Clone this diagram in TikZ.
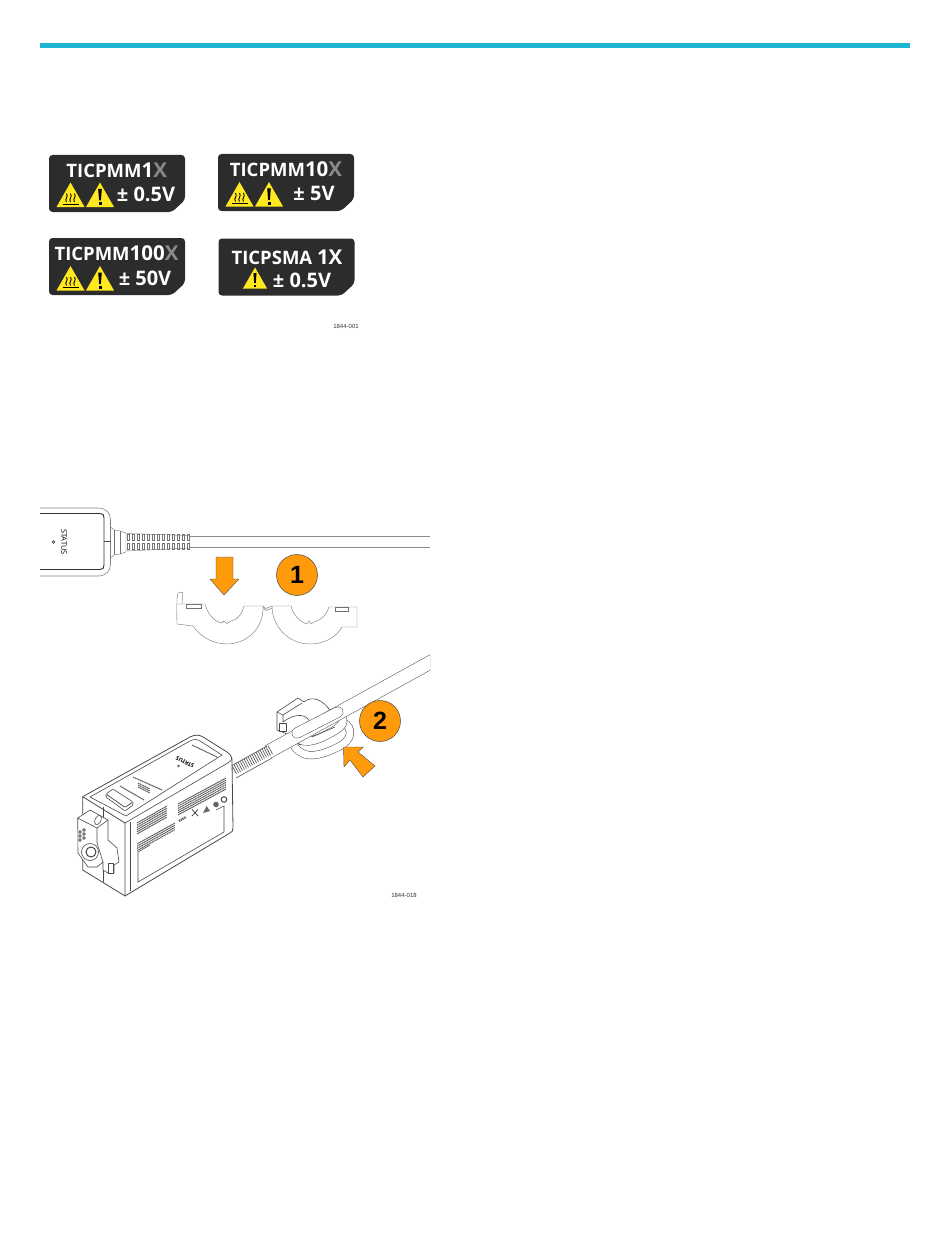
\documentclass[tikz,border=0pt]{standalone}
\usepackage{fontspec}
\setmainfont{Open Sans}
\newfontfamily\tagfont{Liberation Sans}
\usetikzlibrary{positioning, calc}
\definecolor{barcyan}{HTML}{1FB4D2}
\definecolor{badgegray}{HTML}{2C2C2C}
\definecolor{xgray}{HTML}{8A8A8A}
\definecolor{warnyellow}{HTML}{FFE81F}
\definecolor{callorange}{HTML}{FF9A0A}
\definecolor{inkgray}{HTML}{4A4A4A}
\newcommand{\Dim}[1]{\textcolor{xgray}{#1}}
\tikzset{
    badge/.pic = {
    \fill[badgegray, rounded corners=3.5pt] (0,0) -- (136,0) -- (136,45) -- (123,57) -- (0,57) -- cycle;
    },
    warnsign/.pic = {
    \fill[warnyellow] (-14,0) -- (0,-24.5) -- (14,0) -- cycle;
    \fill[black] (-1.8,-18) -- (1.8,-18) -- (0.9,-6.5) -- (-0.9,-6.5) -- cycle;
    \fill[black] (-1.5,-4.6) rectangle (1.5,-1.6);
    },
    hotsign/.pic = {
    \fill[warnyellow] (-14,0) -- (0,-24.5) -- (14,0) -- cycle;
    \draw[black, line width=0.9pt] (-8,-2.8) -- (8,-2.8);
    \foreach \hx in {-4,0,4} {
      \draw[black, line width=0.9pt] (\hx,-5) .. controls (\hx-2.5,-8) and (\hx+2.5,-10) .. (\hx,-13.5);
    }
    },
    topline/.style={font=\fontsize{18.5}{19}\selectfont\bfseries, text=white, inner sep=0pt},
    voltline/.style={font=\fontsize{20}{21}\selectfont\bfseries, text=white, inner sep=0pt},
    callnum/.style={circle, draw=inkgray, line width=0.5pt, fill=callorange, minimum size=41pt, inner sep=0pt, font=\tagfont\fontsize{25}{26}\selectfont\bfseries},
    callarrow/.style={fill=callorange, draw=inkgray, line width=0.4pt, line join=round},
    figtag/.style={font=\tagfont\fontsize{6}{7}\selectfont, text=black!80, inner sep=0pt},
    part/.style={draw=inkgray, line width=0.6pt, fill=white, line join=round},
    ink/.style={draw=inkgray, line width=0.6pt},
    thinink/.style={draw=black!55, line width=0.4pt},
    heavyink/.style={draw=black!80, line width=0.9pt, line join=round},
    fineprint/.style={draw=black!65, line width=1pt, dash pattern=on 1.4pt off 0.5pt},
    tube/.style={draw=inkgray, line width=0.5pt, double=white, double distance=#1},
    tube/.default=11pt,
}
\begin{document}
\begin{tikzpicture}[x=1pt, y=-1pt]
    \useasboundingbox (0,0) rectangle (950,1260);
    \fill[barcyan] (40,43) rectangle (910,48);

    % labels
    \pic at (49,155) {badge};
    \pic at (218,154) {badge};
    \pic at (49,238) {badge};
    \pic at (218.5,238.5) {badge};

    \pic at (70.5,207) {hotsign};
    \pic at (100,207) {warnsign};
    \node[topline] (name1x) at (116.7,170) {TICPMM{\fontsize{20.5}{21}\selectfont 1\Dim{X}}};
    \node[voltline] (volt1x) at (146,194) {± 0.5V};

    \pic at (239.5,206.5) {hotsign};
    \pic at (269,206.5) {warnsign};
    \node[topline] (name10x) at (286,169) {TICPMM{\fontsize{20.5}{21}\selectfont 10\Dim{X}}};
    \node[voltline] (volt10x) at (314,193) {± 5V};

    \pic at (70.5,290.5) {hotsign};
    \pic at (100,290.5) {warnsign};
    \node[topline] (name100x) at (116.5,253) {TICPMM{\fontsize{20.5}{21}\selectfont 100\Dim{X}}};
    \node[voltline] (volt100x) at (145,278) {± 50V};

    \pic[scale=0.86] at (255,288.5) {warnsign};
    \node[topline] (namesma) at (287,257) {TICPSMA {\fontsize{20.5}{21}\selectfont 1X}};
    \node[voltline] (voltsma) at (302,280) {± 0.5V};

    \node[figtag] (tagone) at (346,326) {1844-001};

    % probe head, seen from above
    \draw[ink, draw=black!50] (40,508) -- (98,508) .. controls (106,508) and (110.5,513) .. (110.5,520) -- (110.5,564) .. controls (110.5,571) and (106,576) .. (98,576) -- (40,576);
    \draw[heavyink] (40,513.5) -- (100,513.5) .. controls (103,513.5) and (104,515) .. (104,518) -- (104,565) .. controls (104,568) and (103,569.5) .. (100,569.5) -- (40,569.5);
    \draw[ink] (104,541.5) -- (110.5,541.5);
    \draw[thinink] (110.5,527) -- (114,530) -- (120,531) -- (126,533) -- (126,552) -- (120,554) -- (114,555) -- (110.5,558);
    \draw[thinink] (114,530) -- (114,555) (120,531) -- (120,554);
    \node[rotate=-90, font=\fontsize{7.5}{8}\selectfont, inner sep=0pt] (statustop) at (64,542) {STATUS};
    \draw[ink] (53.5,542) circle (1.4pt);
    \foreach \sx in {127,132,...,187} {
      \draw[thinink] (\sx,534.5) rectangle ++(2.4,5.5);
      \draw[thinink] (\sx,543.5) rectangle ++(2.4,6);
    }
    \draw[thinink] (126,533.5) -- (189.5,535.5) -- (189.5,548) -- (126,551);
    \draw[draw=black!45, line width=0.6pt] (189.5,536) -- (430,536) (189.5,547) -- (430,547);

    % split core, open
    \fill[callarrow] (216,557) -- (233,557) -- (233,579) -- (239,579) -- (224,595) -- (210,579) -- (216,579) -- cycle;
    \node[callnum] (numone) at (297,575) {1};
    \draw[thinink] (176.7,604) -- (205,604) .. controls (208,615) and (215,622) .. (222,623) -- (224,621) -- (227,623.5) -- (231,621) .. controls (238,620) and (243,612) .. (244,606) -- (263,606) .. controls (264,630) and (245,644) .. (227,644) .. controls (212,644) and (200,636) .. (193,626) -- (177,624) -- cycle;
    \draw[thinink] (177,604) -- (177,598) -- (178,593) -- (183,592) -- (182,604);
    \draw[thinink] (186,604) rectangle (201,608);
    \draw[thinink] (272,606) -- (291,606) .. controls (293,615) and (300,622) .. (307,624) -- (309,621) -- (311,624) -- (314,622) .. controls (322,620) and (327,614) .. (329,607) -- (357,607) -- (357,627) -- (342,627) .. controls (336,638) and (323,644) .. (310,644) .. controls (288,644) and (272,626) .. (272,606);
    \draw[thinink] (335,607) rectangle (348,611);
    \draw[thinink] (263,606) -- (266,608.5) -- (272,606) (263,607.5) -- (266,610.5) -- (272,608);

    % split core, closed on the cable
    \draw[part] (277,712) -- (298,698) -- (304,702) .. controls (312,695) and (324,700) .. (331,712) -- (300,745) -- (285,733) -- (277,730) -- cycle;
    \draw[ink] (277,712) -- (283,715) -- (302,703);
    \draw[ink] (283,715) -- (283,722) (283,722) .. controls (296,712) and (308,714) .. (311,724);
    \draw[part] (279,723) rectangle (286,731);
    \draw[tube=7pt] (343,722) .. controls (354,728) and (352,741) .. (338,747) .. controls (325,754) and (310,758) .. (302,753) .. controls (293,748) and (291,741) .. (295,735);
    \draw[tube=8pt] (340,714) .. controls (346,722) and (342,727) .. (330,733) .. controls (318,740) and (304,745) .. (297,737);
    \draw[ink] (312,737) -- (335,727);

    \begin{scope}
      \clip (230,640) rectangle (430,790);
      \draw[tube=13pt] (268,752) -- (436,659.2);
    \end{scope}
    \draw[tube=10pt, line cap=round] (297,733) -- (338,712);

    % probe body
    \foreach \sx in {0,...,18} {
      \draw[ink] ($(232,765.5)+(\sx*2,-\sx*1.11)$) -- ++(4.5,8.5);
    }
    \draw[ink] (231,766) -- (267,746) (236,778) -- (272,758);
    \draw[part, line width=0.8pt] (82.7,796.7) -- (190,737) .. controls (195,734.5) and (199,734.5) .. (203,737) -- (227,752) .. controls (231,755) and (232,757) .. (232,761) -- (233,828) .. controls (233,831) and (232,832) .. (230,833) -- (125,896) -- (82.7,870) -- cycle;
    \draw[ink, line width=0.8pt] (82.7,796.7) -- (125,823) -- (125,896);
    \draw[ink] (125,823) -- (226,764) .. controls (231,761) and (232,760) .. (232,758);
    \draw[ink] (90,797) -- (190,741) .. controls (194,739) and (197,739) .. (200,741) -- (222,755) -- (126,816) -- cycle;
    \draw[ink] (130,822) -- (130,891);
    \draw[ink] (138,852) -- (138,882) -- (224,832) -- (224,806) -- (216,810);
    \draw[ink] (138,852) -- (150,845);
    \draw[ink] (103,807) -- (103,820) (103,870) -- (103,882);

    % button and print on the top face
    \draw[part, rounded corners=1pt] (106,794) -- (113,789) -- (133,802) -- (125,807.5) -- cycle;
    \draw[part, rounded corners=1pt] (106,794) -- (106,797) -- (125,811) -- (133,805) -- (133,802) -- (125,807.5) -- cycle;
    \draw[fineprint] (120,786) -- (144,800);
    \draw[fineprint] (133,777) -- (162,790);
    \foreach \py in {0,2,4} {
      \draw[fineprint] (138,\py+783) -- (150,\py+789);
    }
    \draw[fineprint] (192,745) -- (217,757);
    \node[rotate=152, font=\fontsize{5.5}{6}\selectfont\bfseries, inner sep=0pt] (statusbody) at (185,762) {STATUS};
    \draw[ink] (178.5,766) circle (1pt);

    % print on the front face
    \foreach \py in {0,2.2,...,11} {
      \draw[fineprint] (137,\py+823) -- (167,\py+806);
      \draw[fineprint] (178,\py+804) -- (226,\py+778);
    }
    \foreach \py in {0,2.2,...,6.6} {
      \draw[fineprint] (137,\py+844) -- (175,\py+823);
    }
    \draw[fineprint, line width=2.2pt, dash pattern=on 1.2pt off 0.8pt] (179,821) -- (186,817);
    \draw[draw=black!70, line width=0.8pt] (192,809.5) -- (198,816) (198,809.5) -- (192,816);
    \fill[black!60] (203,813) -- (206.5,806) -- (210,811) -- cycle;
    \fill[black!60] (216,804.5) circle (2.8pt);
    \draw[draw=black!70, line width=1pt] (224,799.5) circle (2.8pt);

    % connector clip on the end face
    \draw[part] (77.7,818) -- (90,810) -- (108,820) -- (108,840) -- (117,848) -- (119,862) -- (114,865) -- (114,873) -- (108,873) -- (103,870) -- (103,862) -- (97,867) -- (88,867) -- (78,853) -- cycle;
    \draw[ink] (77.7,818) -- (97,828) -- (108,820) (97,828) -- (97,843) -- (103,862);
    \draw[part, rotate around={-25:(98,820)}] (98,820) ellipse (3pt and 5pt);
    \draw[part] (90,852) circle (8.5pt);
    \draw[heavyink] (91,852) circle (5pt);
    \foreach \hx/\hy in {80/832, 84/830, 80/836, 84/834, 80/840, 84/838} {
      \draw[ink] (\hx,\hy) circle (1.4pt);
    }
    \draw[part] (108,863) rectangle (113,873);

    \fill[callarrow] (343.5,747) -- (363.5,747) -- (358,752) -- (375,766) -- (363,777) -- (350,760) -- (344,767) -- cycle;
    \node[callnum] (numtwo) at (380,721) {2};
    \node[figtag] (tagtwo) at (404,895) {1844-018};
\end{tikzpicture}
\end{document}
